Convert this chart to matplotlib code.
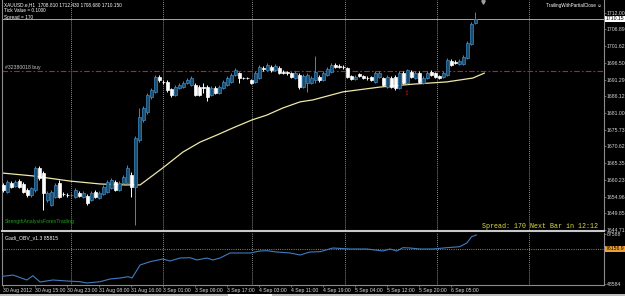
import matplotlib
matplotlib.use("Agg")
import matplotlib.pyplot as plt
from matplotlib import font_manager
from matplotlib.patches import Rectangle

# ---------------- data ----------------
symbol_line = "XAUUSD.e,H1  1708.810 1712.430 1708.680 1710.150"
tick_value_line = "Tick Value = 0.1000"
spread_line = "Spread = 170"
order_label = "#32380018 buy"
ea_label = "TrailingWithPartialClose \u263a"
brand_label = "StrengthAnalysisForexTrading"
status_label = "Spread: 170 Next Bar in 12:12"
obv_label = "Gadi_OBV_v1.3 85815"

opens = [1658.6, 1656.4, 1659.2, 1658.3, 1659.8, 1658.9, 1657.0, 1655.5, 1657.0, 1663.9,
         1662.3, 1653.9, 1652.4, 1654.9, 1659.2, 1655.8, 1655.5, 1655.4, 1654.9, 1656.1,
         1654.9, 1655.2, 1653.9, 1656.4, 1654.5, 1655.8, 1656.4, 1657.6, 1659.5, 1657.0,
         1659.2, 1659.2, 1661.7, 1658.0, 1672.6, 1678.8, 1681.3, 1685.9, 1687.5, 1692.1,
         1690.6, 1690.6, 1688.4, 1686.5, 1688.7, 1689.0, 1690.3, 1689.6, 1689.6, 1689.0,
         1689.0, 1689.0, 1686.5, 1688.7, 1687.2, 1688.7, 1689.6, 1690.6, 1692.8, 1693.4,
         1691.8, 1691.8, 1691.2, 1690.6, 1691.8, 1694.9, 1694.3, 1695.2, 1694.3, 1694.9,
         1693.7, 1693.7, 1693.4, 1691.8, 1692.8, 1689.0, 1690.3, 1690.3, 1691.2, 1692.1,
         1691.2, 1692.8, 1693.7, 1695.9, 1695.5, 1695.2, 1694.9, 1692.4, 1691.5, 1693.1,
         1692.4, 1691.8, 1692.1, 1690.6, 1692.1, 1691.8, 1689.0, 1691.8, 1692.1, 1688.7,
         1693.4, 1690.3, 1693.7, 1691.8, 1693.4, 1690.3, 1691.8, 1693.7, 1693.4, 1692.4,
         1692.1, 1692.8, 1697.1, 1696.8, 1696.2, 1696.2, 1698.0, 1702.4, 1708.81]
highs = [1659.2, 1660.1, 1659.8, 1660.1, 1660.4, 1659.5, 1657.6, 1658.0, 1664.5, 1664.5,
         1662.9, 1656.6, 1657.0, 1659.2, 1660.1, 1656.3, 1656.0, 1656.0, 1657.6, 1656.6,
         1656.6, 1655.8, 1656.6, 1657.0, 1656.6, 1658.6, 1660.1, 1660.8, 1660.1, 1659.8,
         1661.7, 1664.8, 1662.6, 1673.8, 1682.5, 1683.1, 1687.2, 1688.7, 1692.8, 1692.8,
         1691.2, 1691.2, 1688.7, 1689.6, 1690.3, 1690.9, 1691.8, 1692.4, 1690.3, 1689.6,
         1690.3, 1689.6, 1689.3, 1689.3, 1689.6, 1691.2, 1692.4, 1693.4, 1694.9, 1693.7,
         1692.1, 1692.1, 1691.5, 1694.0, 1695.9, 1695.5, 1696.5, 1695.9, 1696.2, 1695.5,
         1694.3, 1694.0, 1693.7, 1694.0, 1693.4, 1693.0, 1693.4, 1692.4, 1698.7, 1692.8,
         1694.0, 1695.2, 1696.5, 1696.5, 1696.2, 1695.9, 1695.2, 1692.8, 1692.8, 1693.4,
         1692.8, 1692.4, 1692.4, 1694.0, 1694.0, 1692.1, 1692.8, 1692.4, 1692.8, 1694.0,
         1694.0, 1694.6, 1694.3, 1694.0, 1694.0, 1692.4, 1694.0, 1694.3, 1693.7, 1692.8,
         1694.0, 1698.0, 1697.7, 1697.4, 1697.7, 1698.9, 1703.3, 1709.2, 1712.43]
lows = [1656.4, 1656.1, 1657.6, 1658.0, 1657.6, 1656.1, 1654.9, 1655.0, 1656.4, 1660.1,
        1650.8, 1653.3, 1652.0, 1654.5, 1654.5, 1655.3, 1655.0, 1655.0, 1654.5, 1654.9,
        1654.5, 1652.4, 1653.5, 1654.5, 1654.2, 1655.5, 1656.1, 1657.3, 1656.6, 1656.6,
        1658.9, 1658.9, 1655.0, 1646.2, 1672.0, 1678.2, 1680.6, 1685.3, 1687.2, 1690.6,
        1689.9, 1687.5, 1685.9, 1686.2, 1688.4, 1688.7, 1689.9, 1689.3, 1686.2, 1686.2,
        1687.2, 1684.7, 1686.2, 1686.8, 1686.8, 1688.4, 1689.3, 1690.3, 1692.4, 1690.3,
        1691.5, 1691.5, 1689.9, 1690.3, 1691.5, 1694.0, 1694.0, 1693.7, 1694.0, 1693.0,
        1693.0, 1692.8, 1691.8, 1691.5, 1688.4, 1688.7, 1687.5, 1689.9, 1690.3, 1690.6,
        1690.9, 1692.4, 1693.4, 1694.9, 1694.9, 1694.6, 1691.8, 1691.2, 1691.2, 1692.1,
        1691.5, 1691.2, 1690.9, 1690.3, 1691.8, 1689.3, 1688.7, 1688.7, 1688.1, 1688.4,
        1689.9, 1689.9, 1691.8, 1691.5, 1690.3, 1689.9, 1691.5, 1692.4, 1691.8, 1691.5,
        1691.8, 1692.4, 1695.5, 1696.2, 1695.9, 1695.9, 1697.7, 1702.0, 1708.68]
closes = [1657.0, 1659.5, 1658.0, 1659.5, 1658.0, 1656.4, 1655.5, 1657.6, 1663.9, 1660.8,
          1656.1, 1656.1, 1656.4, 1658.6, 1654.9, 1655.7, 1655.4, 1655.5, 1657.0, 1655.2,
          1656.1, 1653.0, 1656.1, 1654.9, 1656.1, 1658.0, 1659.5, 1660.1, 1657.0, 1659.2,
          1661.1, 1663.9, 1658.0, 1673.2, 1679.7, 1682.5, 1686.5, 1688.1, 1692.1, 1691.2,
          1690.5, 1688.1, 1686.5, 1689.0, 1689.6, 1690.3, 1691.2, 1691.8, 1686.5, 1686.5,
          1688.7, 1685.9, 1688.7, 1687.2, 1689.0, 1690.6, 1691.8, 1692.8, 1694.3, 1691.8,
          1691.7, 1691.7, 1690.3, 1693.4, 1695.2, 1694.6, 1695.9, 1694.3, 1695.5, 1693.4,
          1693.4, 1693.4, 1692.1, 1693.4, 1689.0, 1692.4, 1692.8, 1691.8, 1693.7, 1691.2,
          1693.4, 1694.6, 1695.9, 1695.2, 1695.2, 1695.1, 1692.1, 1691.5, 1692.1, 1692.4,
          1691.8, 1691.7, 1691.2, 1693.4, 1693.4, 1689.6, 1692.1, 1689.0, 1688.7, 1693.4,
          1690.3, 1694.3, 1692.1, 1693.4, 1690.6, 1691.8, 1693.4, 1692.8, 1692.1, 1691.8,
          1693.4, 1697.4, 1695.9, 1696.5, 1697.1, 1698.3, 1702.7, 1708.6, 1710.15]

ma_bars = [-0.3, 7.4, 16.7, 24.2, 30.4, 34.2, 39.9, 44.9, 49.2, 53.4, 57.4, 62.2, 65.9,
           69.9, 74.2, 77.4, 84.9, 94.2, 102.4, 110.9, 117.4, 120.4]
ma_values = [1662.3, 1661.4, 1659.8, 1658.9, 1658.6, 1658.6, 1663.9, 1668.8, 1671.9, 1674.1,
             1676.3, 1678.8, 1680.3, 1682.5, 1684.4, 1685.0, 1687.5, 1689.0, 1689.9, 1690.6,
             1691.8, 1693.4]

obv_bars = [-0.8, 2.4, 5.9, 7.4, 9.2, 12.4, 15.9, 19.2, 20.9, 24.2, 26.7, 29.2, 31.2, 32.2,
            34.2, 36.7, 39.9, 41.7, 44.2, 46.7, 48.4, 50.9, 52.4, 54.2, 56.7, 61.7, 64.2,
            65.9, 68.4, 71.7, 74.2, 76.7, 79.2, 82.4, 86.7, 90.9, 94.9, 96.7, 98.4, 99.9,
            101.7, 104.2, 107.4, 110.9, 114.1, 115.9, 117.1, 118.3]
obv_values = [54282, 55608, 51708, 55062, 50148, 51708, 50928, 50382, 49368, 50382, 52488,
              53268, 54282, 53268, 63408, 65982, 68088, 66528, 68868, 69102, 67308, 68868,
              67308, 68868, 72768, 72768, 74328, 74562, 73548, 72768, 71208, 73548, 73782,
              76668, 75888, 75888, 74328, 75888, 74328, 76902, 76668, 75888, 75888, 76902,
              77682, 80568, 85482, 86808]

price_ticks = [1712.00, 1706.89, 1701.62, 1696.50, 1691.29, 1686.12, 1681.00, 1675.73,
               1670.62, 1665.35, 1660.23, 1654.96, 1649.85, 1644.71]
price_tick_labels = ["1712.00", "1706.89", "1701.62", "1696.50", "1691.29", "1686.12",
                     "1681.00", "1675.73", "1670.62", "1665.35", "1660.23", "1654.96",
                     "1649.85", "1644.71"]
bid_price = 1710.15
bid_label = "1710.15"
order_price = 1694.1
buy_arrow_bar = 101
buy_arrow_price = 1687.2

obv_ticks = [87588, 48584]
obv_tick_labels = ["87588", "48584"]
obv_level = 76156.9
obv_level_label = "76156.9"

time_labels = ["30 Aug 2012", "30 Aug 15:00", "30 Aug 23:00", "31 Aug 08:00", "31 Aug 16:00",
               "3 Sep 01:00", "3 Sep 09:00", "3 Sep 17:00", "4 Sep 03:00", "4 Sep 11:00",
               "4 Sep 19:00", "5 Sep 04:00", "5 Sep 12:00", "5 Sep 20:00", "6 Sep 05:00"]
bars_per_label = 8

# ---------------- style / layout ----------------
W, H = 625, 296
installed = {f.name for f in font_manager.fontManager.ttflist}
FONT = "Liberation Sans Narrow" if "Liberation Sans Narrow" in installed else "Liberation Sans"
NARROW = FONT == "Liberation Sans Narrow"
FS = 4.4 if NARROW else 3.7
GRID_BARS = [16.85, 39.9, 62.2, 85.4, 108.4, 131.4]
BULL_FILL, BULL_EDGE = "#1B4A6B", "#3C8CC4"
BEAR_FILL, BEAR_EDGE = "#FFFFFF", "#FFFFFF"
AXIS_GRAY = "#8C8C8C"
LABEL_COLOR = "#D8D8D8"

fig = plt.figure(figsize=(W / 100, H / 100), dpi=100, facecolor="black")


def fx(x):
    return x / W


def fy(y):
    return 1 - y / H


ax = fig.add_axes([fx(2), fy(231), (604 - 2) / W, 231 / H], facecolor="black")
ax2 = fig.add_axes([fx(2), fy(285), (604 - 2) / W, (285 - 233) / H], facecolor="black")

xlim = (-0.325, 150.2)
ax.set_xlim(*xlim)
ax2.set_xlim(*xlim)
ax.set_ylim(1644.29, 1716.04)
ax2.set_ylim(47808, 88368)

# grid verticals
for g in GRID_BARS:
    for a in (ax, ax2):
        a.axvline(g, color="#C8C8C8", lw=0.7, dashes=(0.7, 1.4), zorder=1)

# bid line and order line
ax.axhline(bid_price, color="#A8A8A8", lw=0.7, zorder=1)
ax.axhline(order_price, color="#B4232A", lw=0.8, dashes=(5, 2, 1.5, 2), zorder=1)

# moving average
ax.plot(ma_bars, ma_values, color="#EEE8AA", lw=0.9, zorder=2, solid_capstyle="butt")

# candles
idx = list(range(len(opens)))
bull = [i for i in idx if closes[i] >= opens[i]]
bear = [i for i in idx if closes[i] < opens[i]]
ax.vlines(bull, [lows[i] for i in bull], [highs[i] for i in bull], color=BULL_EDGE, lw=0.7, zorder=3)
ax.vlines(bear, [lows[i] for i in bear], [highs[i] for i in bear], color=BEAR_EDGE, lw=0.7, zorder=3)
ax.bar(bull, [closes[i] - opens[i] for i in bull], bottom=[opens[i] for i in bull], width=0.65,
       color=BULL_FILL, edgecolor=BULL_EDGE, linewidth=0.5, zorder=4)
ax.bar(bear, [opens[i] - closes[i] for i in bear], bottom=[closes[i] for i in bear], width=0.65,
       color=BEAR_FILL, edgecolor=BEAR_EDGE, linewidth=0.5, zorder=4)

# buy arrow and top marker
ax.text(buy_arrow_bar, buy_arrow_price, "\u21e7", color="#B01818", fontsize=5, ha="center",
        va="center", zorder=5)
ax.plot([120], [1715.4], marker="v", color="#A0A0A0", ms=2.5, zorder=5)

# axes styling
for a in (ax, ax2):
    a.set_xticks([])
    for s in a.spines.values():
        s.set_color(AXIS_GRAY)
        s.set_linewidth(0.8)
    a.spines["top"].set_visible(False)
    a.yaxis.tick_right()
    a.tick_params(axis="y", colors=AXIS_GRAY, labelcolor=LABEL_COLOR, labelsize=FS,
                  length=1.5, width=0.5, pad=0.6)
ax.spines["bottom"].set_color("#C8C8C8")
ax.spines["bottom"].set_linewidth(1.5)

ax.set_yticks(price_ticks)
ax.set_yticklabels(price_tick_labels, family=FONT)
ax2.set_yticks(obv_ticks)
ax2.set_yticklabels(obv_tick_labels, family=FONT)

ax.text(1.003, bid_price, bid_label, transform=ax.get_yaxis_transform(), fontsize=FS,
        family=FONT, color="black", va="center", ha="left",
        bbox=dict(boxstyle="square,pad=0.12", fc="white", ec="none"), clip_on=False)

# OBV panel
ax2.axhline(obv_level, color="#D2782A", lw=0.8, dashes=(0.8, 1.2), zorder=1)
ax2.plot(obv_bars, obv_values, color="#3F7CC0", lw=0.8, zorder=3)
ax2.text(1.003, obv_level, obv_level_label, transform=ax2.get_yaxis_transform(), fontsize=FS,
         family=FONT, color="black", va="center", ha="left",
         bbox=dict(boxstyle="square,pad=0.12", fc="#F0A030", ec="none"), clip_on=False)

ax2.set_xticks([k * bars_per_label for k in range(len(time_labels))])
ax2.set_xticklabels(time_labels, family=FONT, ha="left")
ax2.tick_params(axis="x", colors=AXIS_GRAY, labelcolor=LABEL_COLOR, labelsize=FS,
                length=1.5, width=0.5, pad=1)

# window bottom strip (scroll bar)
fig.patches.append(Rectangle((0, 0), 1, 2.5 / H, transform=fig.transFigure,
                             facecolor="#BDBDBD", edgecolor="none"))
fig.patches.append(Rectangle((fx(228), 0), 44 / W, 2.5 / H, transform=fig.transFigure,
                             facecolor="#FFFFFF", edgecolor="none"))

# texts
fig.text(fx(4), fy(5), symbol_line, fontsize=FS * 0.93, family=FONT, color="white", va="center")
fig.text(fx(4), fy(11), tick_value_line, fontsize=FS * 0.93, family=FONT, color="white", va="center")
fig.text(fx(4), fy(17), spread_line, fontsize=FS * 0.93, family=FONT, color="white", va="center")
fig.text(fx(5), fy(67), order_label, fontsize=FS, family=FONT, color="#C8C8C8", va="center")
fig.text(fx(546), fy(6), ea_label, fontsize=FS * 0.9, family=[FONT, "DejaVu Sans"],
         color="white", va="center")
fig.text(fx(5), fy(222), brand_label, fontsize=FS, family=FONT, color="#20A020", va="center")
fig.text(fx(482), fy(226.5), status_label, fontsize=4.8, family="Liberation Mono",
         color="#E0E040", va="center")
fig.text(fx(5), fy(238), obv_label, fontsize=FS, family=FONT, color="white", va="center")

fig.savefig("out.png", dpi=100, facecolor="black")
